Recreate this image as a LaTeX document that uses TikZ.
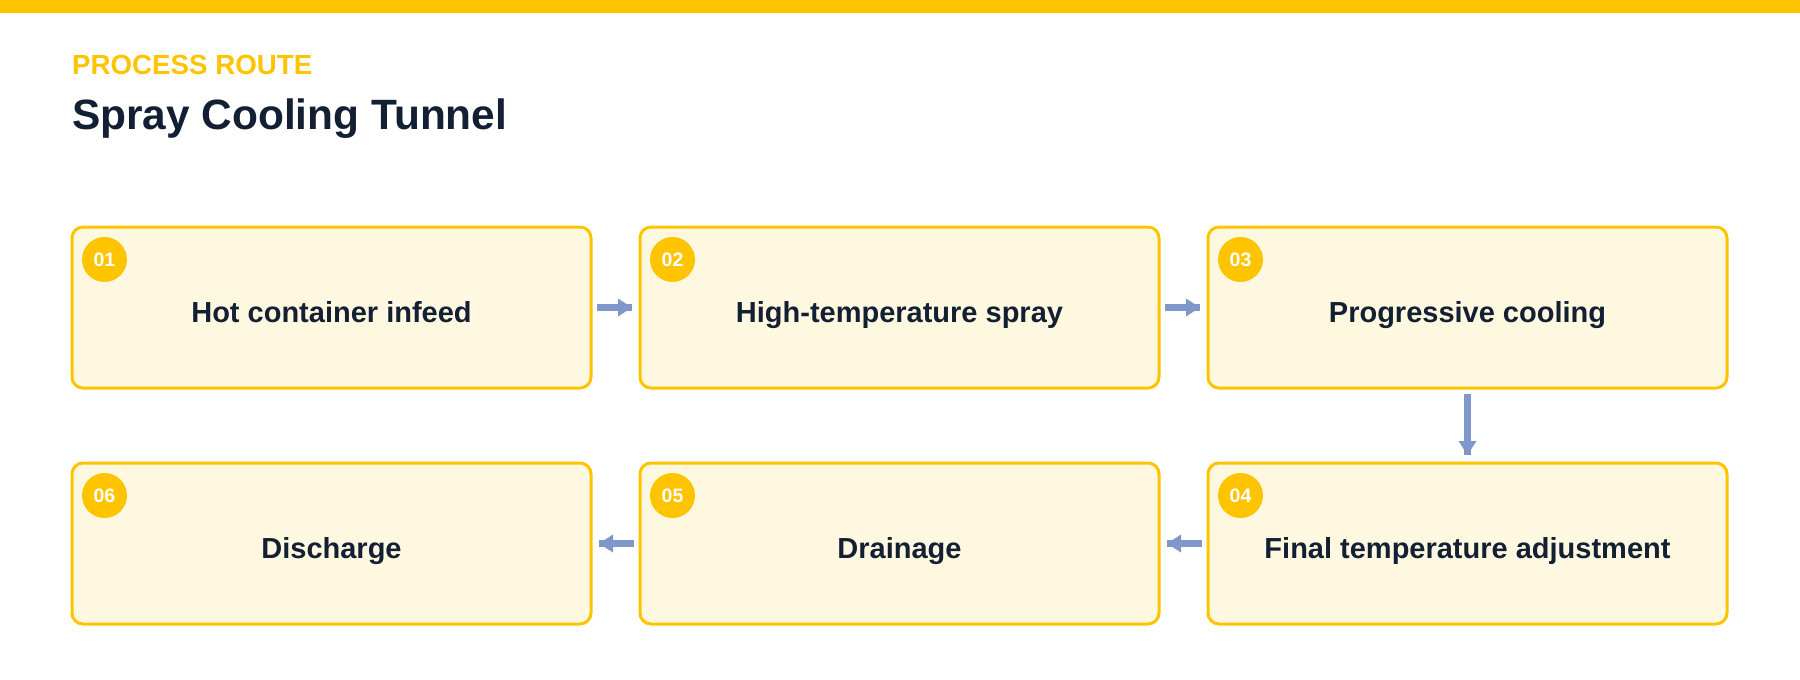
\documentclass[tikz,border=0pt]{standalone}
\usepackage{fontspec}
\setmainfont{Liberation Sans}
\usetikzlibrary{arrows.meta,calc}
\definecolor{gold}{HTML}{FFC400}
\definecolor{cream}{HTML}{FFF8E1}
\definecolor{navy}{HTML}{131F33}
\definecolor{arrowc}{HTML}{7F97C9}
\begin{document}
\begin{tikzpicture}[x=1pt,y=-1pt,
  stepbox/.style={draw=gold,fill=cream,line width=3pt,rounded corners=11pt,
    minimum width=519pt,minimum height=161pt,inner sep=0pt},
  lbl/.style={anchor=base,text=navy,inner sep=0pt,
    font=\fontsize{29}{34}\selectfont\bfseries},
  num/.style={circle,fill=gold,minimum size=45pt,inner sep=0pt,text=white,
    font=\fontsize{19.5}{22}\selectfont\bfseries},
  flowtip/.style={draw=arrowc,line width=7pt,shorten <=4.5pt,shorten >=6.5pt,
    -{Triangle[length=14pt,width=17pt]}},
  flowshaft/.style={draw=arrowc,line width=7pt,shorten <=4.5pt,shorten >=6.5pt}
]
\path[use as bounding box,fill=white] (0,0) rectangle (1800,680);
\fill[gold] (0,0) rectangle (1800,13);
\node[anchor=base west,inner sep=0pt,text=gold,font=\fontsize{27.7}{32}\selectfont\bfseries]
  (kicker) at (72,74) {PROCESS ROUTE};
\node[anchor=base west,inner sep=0pt,text=navy,font=\fontsize{42.4}{48}\selectfont\bfseries]
  (title) at (72,129) {Spray Cooling Tunnel};

\node[stepbox] (b1) at (331.5,307.5) {};
\node[stepbox] (b2) at (899.5,307.5) {};
\node[stepbox] (b3) at (1467.5,307.5) {};
\node[stepbox] (b4) at (1467.5,543.5) {};
\node[stepbox] (b5) at (899.5,543.5) {};
\node[stepbox] (b6) at (331.5,543.5) {};

\node[lbl] (l1) at ($(b1.center)+(0,14.5)$) {Hot container infeed};
\node[lbl] (l2) at ($(b2.center)+(0,14.5)$) {High-temperature spray};
\node[lbl] (l3) at ($(b3.center)+(0,14.5)$) {Progressive cooling};
\node[lbl] (l4) at ($(b4.center)+(0,14.5)$) {Final temperature adjustment};
\node[lbl] (l5) at ($(b5.center)+(0,14.5)$) {Drainage};
\node[lbl] (l6) at ($(b6.center)+(0,14.5)$) {Discharge};

\node[num] (n1) at ($(b1.north west)+(34,34)$) {01};
\node[num] (n2) at ($(b2.north west)+(34,34)$) {02};
\node[num] (n3) at ($(b3.north west)+(34,34)$) {03};
\node[num] (n4) at ($(b4.north west)+(34,34)$) {04};
\node[num] (n5) at ($(b5.north west)+(34,34)$) {05};
\node[num] (n6) at ($(b6.north west)+(34,34)$) {06};

\foreach \a/\b in {b1/b2,b2/b3,b3/b4,b4/b5,b5/b6}{
  \draw[flowshaft] (\a) -- (\b);
  \draw[flowtip] (\a) -- (\b);
}
\end{tikzpicture}
\end{document}
